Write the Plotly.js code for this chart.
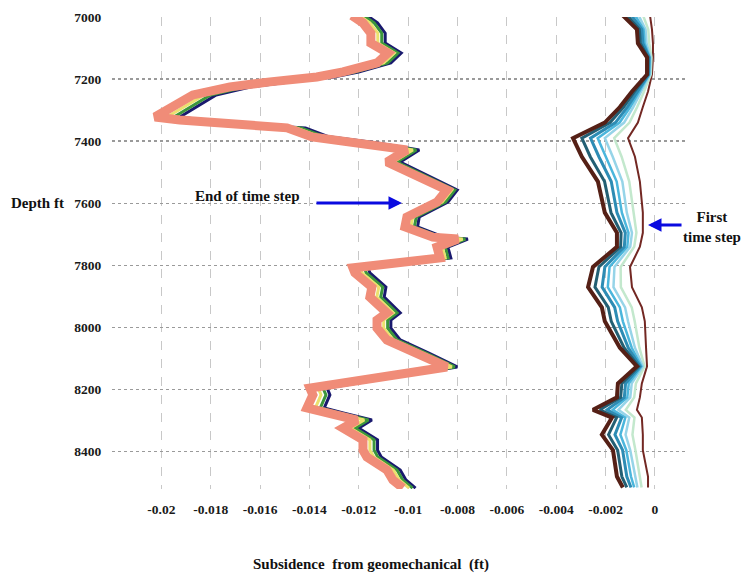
<!DOCTYPE html>
<html>
<head>
<meta charset="utf-8">
<script src="https://cdn.plot.ly/plotly-3.0.1.min.js"></script>
<style>html,body{margin:0;padding:0;background:#fff;}#chart{width:748px;height:574px;}</style>
</head>
<body>
<div id="chart"></div>
<script>
// ---- Data (depth in ft, subsidence in ft) ----
const depthLate = [6995,7019,7052,7084,7116,7148,7177,7193,7209,7225,7251,7322,7332,7345,7354,7357,7386,7406,7428,7467,7502,7557,7596,7644,7676,7709,7715,7741,7776,7808,7824,7870,7902,7953,7976,8002,8040,8082,8127,8195,8217,8259,8275,8298,8324,8362,8395,8417,8459,8491,8517];

const stepNavy = [-0.01167,-0.01124,-0.01093,-0.01093,-0.01028,-0.0107,-0.01201,-0.01302,-0.01482,-0.01636,-0.01778,-0.01925,-0.01829,-0.01636,-0.01482,-0.01416,-0.01321,-0.01124,-0.00955,-0.01032,-0.00943,-0.00801,-0.00839,-0.00955,-0.00962,-0.00855,-0.00758,-0.00839,-0.00827,-0.01163,-0.01155,-0.0109,-0.01097,-0.01032,-0.0107,-0.0107,-0.01032,-0.00916,-0.00801,-0.01328,-0.01317,-0.0134,-0.01263,-0.01147,-0.01201,-0.01124,-0.01124,-0.01109,-0.01032,-0.01009,-0.0097];
const stepGreen = [-0.01181,-0.01138,-0.01107,-0.01107,-0.01041,-0.01083,-0.01216,-0.01318,-0.01501,-0.01657,-0.01801,-0.01949,-0.01852,-0.01657,-0.01501,-0.01434,-0.01337,-0.01138,-0.00967,-0.01045,-0.00955,-0.00811,-0.00849,-0.00967,-0.00975,-0.00866,-0.00768,-0.00849,-0.00838,-0.01177,-0.0117,-0.01103,-0.01111,-0.01045,-0.01083,-0.01083,-0.01045,-0.00927,-0.00811,-0.01345,-0.01333,-0.01356,-0.01278,-0.01161,-0.01216,-0.01138,-0.01138,-0.01123,-0.01045,-0.01022,-0.00982];
const stepYellow = [-0.01199,-0.01155,-0.01123,-0.01123,-0.01056,-0.01099,-0.01234,-0.01337,-0.01523,-0.01681,-0.01827,-0.01977,-0.01879,-0.01681,-0.01523,-0.01455,-0.01357,-0.01155,-0.00981,-0.0106,-0.00969,-0.00823,-0.00862,-0.00981,-0.00989,-0.00878,-0.00779,-0.00862,-0.0085,-0.01195,-0.01187,-0.01119,-0.01127,-0.0106,-0.01099,-0.01099,-0.0106,-0.00941,-0.00823,-0.01364,-0.01353,-0.01376,-0.01297,-0.01178,-0.01234,-0.01155,-0.01155,-0.01139,-0.0106,-0.01036,-0.00996];
const stepEnd = [-0.01228,-0.01183,-0.01151,-0.01151,-0.01082,-0.01126,-0.01264,-0.0137,-0.0156,-0.01722,-0.01872,-0.02026,-0.01925,-0.01722,-0.0156,-0.01491,-0.0139,-0.01183,-0.01005,-0.01086,-0.00993,-0.00843,-0.00883,-0.01005,-0.01013,-0.009,-0.00798,-0.00883,-0.00871,-0.01224,-0.01216,-0.01147,-0.01155,-0.01086,-0.01126,-0.01126,-0.01086,-0.00964,-0.00843,-0.01398,-0.01386,-0.0141,-0.01329,-0.01207,-0.01264,-0.01183,-0.01183,-0.01167,-0.01086,-0.01062,-0.01021];

const depthEarly = [6995,7040,7085,7130,7185,7240,7290,7340,7390,7450,7530,7630,7695,7740,7805,7870,7935,7980,8065,8125,8180,8225,8265,8290,8345,8395,8480,8515];

const stepFirst = [-0.0002,-0.00012,-0.00008,-0.00008,-0.00012,-0.00028,-0.00049,-0.00069,-0.00109,-0.00081,-0.00061,-0.00049,-0.00049,-0.00061,-0.00101,-0.00093,-0.00053,-0.00041,-0.00036,-0.00032,-0.00053,-0.00061,-0.00073,-0.00053,-0.00049,-0.00049,-0.00028,-0.00028];
const stepMint = [-0.00048,-0.00027,-0.00023,-0.00014,-0.00017,-0.00044,-0.00072,-0.00103,-0.00165,-0.00135,-0.00104,-0.00088,-0.00075,-0.00084,-0.00139,-0.00138,-0.00094,-0.00082,-0.00063,-0.00042,-0.00077,-0.00084,-0.00118,-0.00083,-0.00091,-0.00079,-0.0006,-0.00054];
const stepLightBlue = [-0.00066,-0.00038,-0.00034,-0.00018,-0.0002,-0.00055,-0.00088,-0.00125,-0.00203,-0.00171,-0.00132,-0.00114,-0.00093,-0.001,-0.00164,-0.00168,-0.00121,-0.00109,-0.00081,-0.00049,-0.00094,-0.001,-0.00148,-0.00104,-0.00119,-0.001,-0.00081,-0.00071];
const stepSky = [-0.0008,-0.00046,-0.00042,-0.00021,-0.00023,-0.00064,-0.001,-0.00143,-0.00232,-0.00199,-0.00155,-0.00134,-0.00107,-0.00112,-0.00184,-0.00191,-0.00142,-0.0013,-0.00094,-0.00055,-0.00106,-0.00112,-0.00171,-0.0012,-0.0014,-0.00116,-0.00097,-0.00084];
const stepSteel = [-0.00095,-0.00053,-0.00049,-0.00024,-0.00026,-0.00072,-0.00112,-0.0016,-0.00261,-0.00227,-0.00177,-0.00154,-0.0012,-0.00124,-0.00203,-0.00214,-0.00163,-0.00151,-0.00108,-0.0006,-0.00119,-0.00124,-0.00194,-0.00135,-0.00162,-0.00131,-0.00114,-0.00097];
const stepTeal = [-0.00112,-0.00063,-0.00059,-0.00028,-0.00029,-0.00083,-0.00127,-0.00182,-0.00296,-0.00262,-0.00204,-0.00178,-0.00137,-0.00139,-0.00227,-0.00243,-0.00189,-0.00177,-0.00125,-0.00066,-0.00134,-0.00139,-0.00223,-0.00155,-0.00188,-0.00151,-0.00134,-0.00114];
const stepBrown = [-0.0013,-0.00073,-0.00069,-0.00032,-0.00032,-0.00093,-0.00142,-0.00203,-0.00332,-0.00296,-0.00231,-0.00203,-0.00154,-0.00154,-0.00251,-0.00271,-0.00215,-0.00203,-0.00142,-0.00073,-0.0015,-0.00154,-0.00251,-0.00174,-0.00215,-0.0017,-0.00154,-0.0013];

const xTickVals = [-0.022,-0.02,-0.018,-0.016,-0.014,-0.012,-0.01,-0.008,-0.006,-0.004,-0.002,0];
const xTickText = ['','-0.02','-0.018','-0.016','-0.014','-0.012','-0.01','-0.008','-0.006','-0.004','-0.002','0'];
const yTickVals = [7000,7200,7400,7600,7800,8000,8200,8400];

// ---- Traces ----
function tr(x, y, color, width) {
  return {x: x, y: y, type: 'scatter', mode: 'lines', line: {color: color, width: width}, showlegend: false, hoverinfo: 'skip'};
}
const data = [
  tr(stepFirst, depthEarly, 'rgb(115,40,35)', 2),
  tr(stepMint, depthEarly, 'rgb(195,232,205)', 2.5),
  tr(stepLightBlue, depthEarly, 'rgb(150,212,232)', 2.5),
  tr(stepSky, depthEarly, 'rgb(75,182,220)', 2.5),
  tr(stepSteel, depthEarly, 'rgb(45,140,180)', 3),
  tr(stepTeal, depthEarly, 'rgb(35,95,115)', 3),
  tr(stepBrown, depthEarly, 'rgb(85,32,22)', 4),
  tr(stepNavy, depthLate, 'rgb(25,25,110)', 3),
  tr(stepGreen, depthLate, 'rgb(60,150,60)', 3),
  tr(stepYellow, depthLate, 'rgb(235,225,110)', 3),
  tr(stepEnd, depthLate, 'rgb(240,140,120)', 9)
];

const serif = 'Liberation Serif, Times New Roman, serif';
const layout = {
  width: 748, height: 574,
  margin: {l: 112, r: 60, t: 17, b: 85},
  paper_bgcolor: '#fff', plot_bgcolor: '#fff',
  hovermode: false,
  xaxis: {
    range: [-0.022, 0.00134],
    tickvals: xTickVals, ticktext: xTickText,
    showgrid: true, gridcolor: '#c8c8c8', griddash: 'dash', gridwidth: 1,
    zeroline: false, showline: false,
    ticks: 'outside', ticklen: 8, tickcolor: 'rgba(0,0,0,0)',
    tickfont: {family: serif, size: 13.5, color: '#1a1a1a', weight: 'bold'}
  },
  yaxis: {
    range: [8520, 7000],
    tickvals: yTickVals,
    showgrid: true, gridcolor: '#9a9a9a', griddash: 'dot', gridwidth: 1.5,
    zeroline: false, showline: false,
    ticks: 'outside', ticklen: 7, tickcolor: 'rgba(0,0,0,0)',
    tickfont: {family: serif, size: 13.5, color: '#1a1a1a', weight: 'bold'}
  },
  annotations: [
    {xref: 'paper', yref: 'paper', x: -0.130, y: 0.606, xanchor: 'center', yanchor: 'middle',
     text: '<b>Depth ft</b>', showarrow: false,
     font: {family: serif, size: 15, color: '#111'}},
    {xref: 'paper', yref: 'paper', x: 0.45, y: -0.161, xanchor: 'center', yanchor: 'middle',
     text: '<b>Subsidence  from geomechanical  (ft)</b>', showarrow: false,
     font: {family: serif, size: 15, color: '#111'}},
    {xref: 'paper', yref: 'paper', x: 0.236, y: 0.621, xanchor: 'center', yanchor: 'middle',
     text: '<b>End of time step</b>', showarrow: false,
     font: {family: serif, size: 15, color: '#111'}},
    {xref: 'x', yref: 'y', x: -0.01025, y: 7599, ax: -87, ay: 0, text: '', showarrow: true,
     arrowcolor: '#0a0ae0', arrowwidth: 3, arrowhead: 2, arrowsize: 0.9},
    {xref: 'paper', yref: 'paper', x: 1.042, y: 0.555, xanchor: 'center', yanchor: 'middle',
     text: '<b>First<br>time step</b>', showarrow: false,
     font: {family: serif, size: 15, color: '#111'}},
    {xref: 'x', yref: 'y', x: -0.00028, y: 7670, ax: 35, ay: 0, text: '', showarrow: true,
     arrowcolor: '#0a0ae0', arrowwidth: 3, arrowhead: 2, arrowsize: 0.9}
  ]
};

Plotly.newPlot('chart', data, layout, {displayModeBar: false, staticPlot: true});
</script>
</body>
</html>
